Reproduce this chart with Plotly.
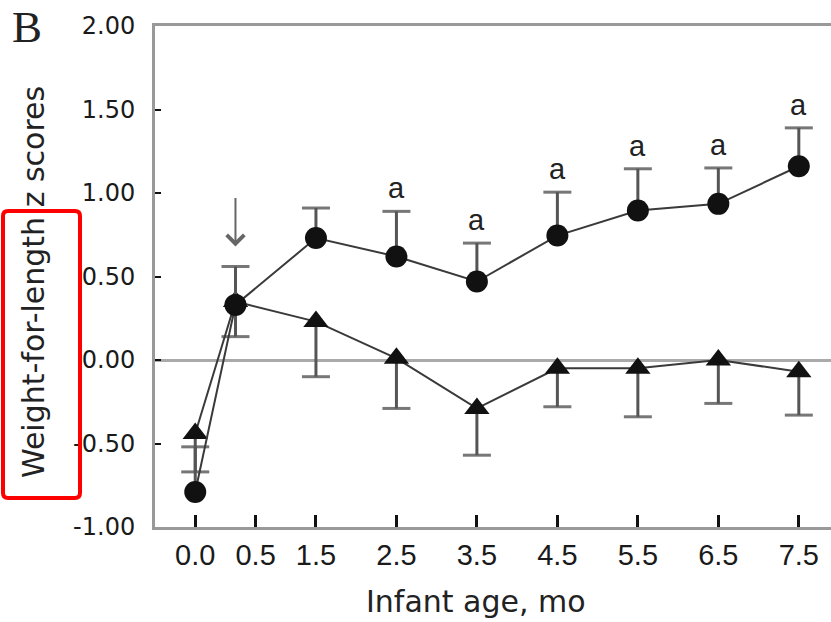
import plotly.graph_objects as go

# ---------------- data ----------------
ages = [0.0, 0.5, 1.5, 2.5, 3.5, 4.5, 5.5, 6.5, 7.5]
circle_z = [-0.79, 0.33, 0.73, 0.62, 0.47, 0.745, 0.895, 0.935, 1.16]
circle_err_up = [0.27, 0.23, 0.18, 0.27, 0.23, 0.26, 0.25, 0.215, 0.23]
triangle_z = [-0.44, 0.35, 0.23, 0.01, -0.29, -0.05, -0.05, 0.0, -0.07]
triangle_err_down = [0.23, 0.21, 0.33, 0.30, 0.28, 0.23, 0.29, 0.26, 0.26]
sig_labels = ["", "", "", "a", "a", "a", "a", "a", "a"]

x_tick_labels = ["0.0", "0.5", "1.5", "2.5", "3.5", "4.5", "5.5", "6.5", "7.5"]
y_tick_values = [-1.0, -0.5, 0.0, 0.5, 1.0, 1.5, 2.0]

# ---------------- layout helpers ----------------
W_PX, H_PX = 831, 622
L, T, R, B = 155, 26, 0, 95
PW, PH = W_PX - L - R, H_PX - T - B

def px_x(px):
    return (px - L) / PW

def px_y(py):
    return 1 - (py - T) / PH

x_tick_pos = [0.0, 0.75, 1.5, 2.5, 3.5, 4.5, 5.5, 6.5, 7.5]
y_tick_text = [f"{v:.2f}" for v in y_tick_values]

n = len(ages)
fig = go.Figure()

# caps of error bars
cap_x = ages + ages
cap_y = [c + e for c, e in zip(circle_z, circle_err_up)] + \
        [t - e for t, e in zip(triangle_z, triangle_err_down)]
fig.add_trace(go.Scatter(
    x=cap_x, y=cap_y, mode="markers",
    marker=dict(symbol="line-ew", size=20, color="#777",
                line=dict(color="#777", width=3)),
    hoverinfo="skip", showlegend=False))

# triangle series
fig.add_trace(go.Scatter(
    x=ages, y=triangle_z, mode="lines+markers",
    line=dict(color="#3a3a3a", width=2),
    marker=dict(symbol="triangle-up", size=22, color="#111"),
    error_y=dict(type="data", symmetric=False, array=[0] * n,
                 arrayminus=triangle_err_down, width=0, thickness=3,
                 color="#555"),
    showlegend=False))

# circle series
fig.add_trace(go.Scatter(
    x=ages, y=circle_z, mode="lines+markers",
    line=dict(color="#3a3a3a", width=2),
    marker=dict(symbol="circle", size=22, color="#111"),
    error_y=dict(type="data", symmetric=False, array=circle_err_up,
                 arrayminus=[0] * n, width=0, thickness=3, color="#555"),
    showlegend=False))

annotations = []
# significance letters
for x, c, e, s in zip(ages, circle_z, circle_err_up, sig_labels):
    if s:
        annotations.append(dict(
            x=x, y=c + e, xref="x", yref="y", text=s, showarrow=False,
            yanchor="middle", yshift=23,
            font=dict(family="Liberation Sans Narrow, Liberation Sans, Arial",
                      size=29, color="#222")))

# arrow
annotations.append(dict(
    x=ages[1], y=0.68, xref="x", yref="y", ax=0, ay=-50,
    showarrow=True, arrowhead=4, arrowsize=1.7, arrowwidth=2,
    arrowcolor="#666", text=""))

# panel letter
annotations.append(dict(
    x=px_x(27), y=px_y(27), xref="paper", yref="paper", text="B",
    showarrow=False, xanchor="center", yanchor="middle",
    font=dict(family="Liberation Serif, Times New Roman, serif", size=45,
              color="#222")))

# axis titles
annotations.append(dict(
    x=px_x(33), y=px_y(282), xref="paper", yref="paper",
    text="Weight-for-length z scores", textangle=-90, showarrow=False,
    xanchor="center", yanchor="middle",
    font=dict(family="DejaVu Sans", size=30, color="#222")))
annotations.append(dict(
    x=px_x(476), y=px_y(601), xref="paper", yref="paper",
    text="Infant age, mo", showarrow=False,
    xanchor="center", yanchor="middle",
    font=dict(family="DejaVu Sans", size=30, color="#222")))

# red highlight box (rounded)
x0, x1 = px_x(3), px_x(80)
y0, y1 = px_y(498), px_y(211)
rx, ry = 5 / PW, 5 / PH
path = (f"M{x0 + rx},{y1} L{x1 - rx},{y1} Q{x1},{y1} {x1},{y1 - ry} "
        f"L{x1},{y0 + ry} Q{x1},{y0} {x1 - rx},{y0} "
        f"L{x0 + rx},{y0} Q{x0},{y0} {x0},{y0 + ry} "
        f"L{x0},{y1 - ry} Q{x0},{y1} {x0 + rx},{y1} Z")

fig.update_layout(
    width=W_PX, height=H_PX,
    margin=dict(l=L, r=R, t=T, b=B),
    paper_bgcolor="white", plot_bgcolor="white",
    showlegend=False,
    annotations=annotations,
    shapes=[dict(type="path", path=path, xref="paper", yref="paper",
                 line=dict(color="#ff0000", width=4), layer="above")],
)

fig.update_xaxes(
    range=[-0.5, 7.9], tickmode="array", tickvals=x_tick_pos,
    ticktext=x_tick_labels, ticks="inside", ticklen=12, tickwidth=2.5,
    tickcolor="#111", showline=True, linecolor="#999", linewidth=3,
    mirror=True, showgrid=False, zeroline=False,
    tickfont=dict(family="Liberation Sans, Arial", size=29, color="#1a1a1a"),
    ticklabelstandoff=0)

fig.update_yaxes(
    range=[-1.0, 2.0], tickmode="array", tickvals=y_tick_values,
    ticktext=y_tick_text, ticks="inside", ticklen=6, tickwidth=2,
    tickcolor="#111", showline=True, linecolor="#999", linewidth=3,
    showgrid=False, zeroline=True, zerolinecolor="#aaa", zerolinewidth=3,
    tickfont=dict(family="DejaVu Sans", size=24, color="#1a1a1a"),
    ticklabelstandoff=12)

fig.write_html("out.html")
